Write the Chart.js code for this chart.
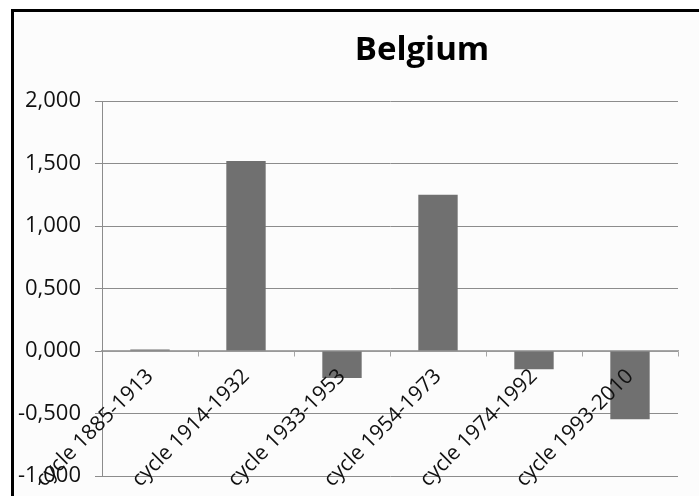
<!DOCTYPE html>
<html>
<head>
<meta charset="utf-8">
<script src="https://cdn.jsdelivr.net/npm/chart.js@4.4.1/dist/chart.umd.min.js"></script>
<style>
  html, body { margin: 0; padding: 0; background: #fff; overflow: hidden; }
  #frame {
    position: absolute; left: 11px; top: 9px; width: 720px; height: 520px;
    border-left: 3px solid #000; border-top: 3px solid #000; background: #fcfcfc;
  }
  #wrap { position: absolute; left: 0; top: 0; width: 699px; height: 496px; }
</style>
</head>
<body>
<div id="frame"></div>
<div id="wrap"><canvas id="chart" width="699" height="496"></canvas></div>
<script>
const titleText = "Belgium";
const categories = [
  "cycle 1885-1913",
  "cycle 1914-1932",
  "cycle 1933-1953",
  "cycle 1954-1973",
  "cycle 1974-1992",
  "cycle 1993-2010"
];
const values = [0.012, 1.52, -0.215, 1.25, -0.145, -0.545];
const yMin = -1;
const yMax = 2;
const yStep = 0.5;

// title is drawn off-centre like in the original, so draw it by hand
const titlePlugin = {
  id: "offsetTitle",
  afterDraw(chart) {
    const ctx = chart.ctx;
    ctx.save();
    ctx.font = "bold 33px 'Open Sans'";
    ctx.fillStyle = "#000";
    ctx.textAlign = "center";
    ctx.textBaseline = "alphabetic";
    ctx.fillText(titleText, 422, 60);
    ctx.restore();
  }
};

new Chart(document.getElementById("chart"), {
  type: "bar",
  data: {
    labels: categories,
    datasets: [
      {
        label: titleText,
        data: values,
        backgroundColor: "#707070",
        barPercentage: 0.41,
        categoryPercentage: 1.0
      }
    ]
  },
  options: {
    responsive: false,
    animation: false,
    layout: { padding: { top: 101, right: 21, bottom: 20, left: 0 } },
    plugins: {
      legend: { display: false },
      tooltip: { enabled: false }
    },
    scales: {
      x: {
        position: { y: 0 },
        border: { display: true, color: "#a6a6a6", width: 1.5 },
        grid: {
          offset: true,
          drawOnChartArea: false,
          drawTicks: true,
          tickLength: 5,
          color: "#a6a6a6"
        },
        ticks: {
          z: 1,
          minRotation: 45,
          maxRotation: 45,
          autoSkip: false,
          padding: 8,
          color: "#111",
          font: { family: "'Open Sans'", size: 21 }
        }
      },
      y: {
        min: yMin,
        max: yMax,
        afterFit(scale) {
          // fixed axis width, and let the layout padding alone place the plot
          scale.width = 102;
          scale.paddingTop = 0;
          scale.paddingBottom = 0;
        },
        border: { display: true, color: "#8c8c8c", width: 1 },
        grid: { color: "#8c8c8c", tickLength: 7 },
        ticks: {
          stepSize: yStep,
          padding: 14,
          color: "#111",
          font: { family: "'Open Sans'", size: 22 },
          callback: (v) => v.toFixed(3).replace(".", ",")
        }
      }
    }
  },
  plugins: [titlePlugin]
});
</script>
</body>
</html>
